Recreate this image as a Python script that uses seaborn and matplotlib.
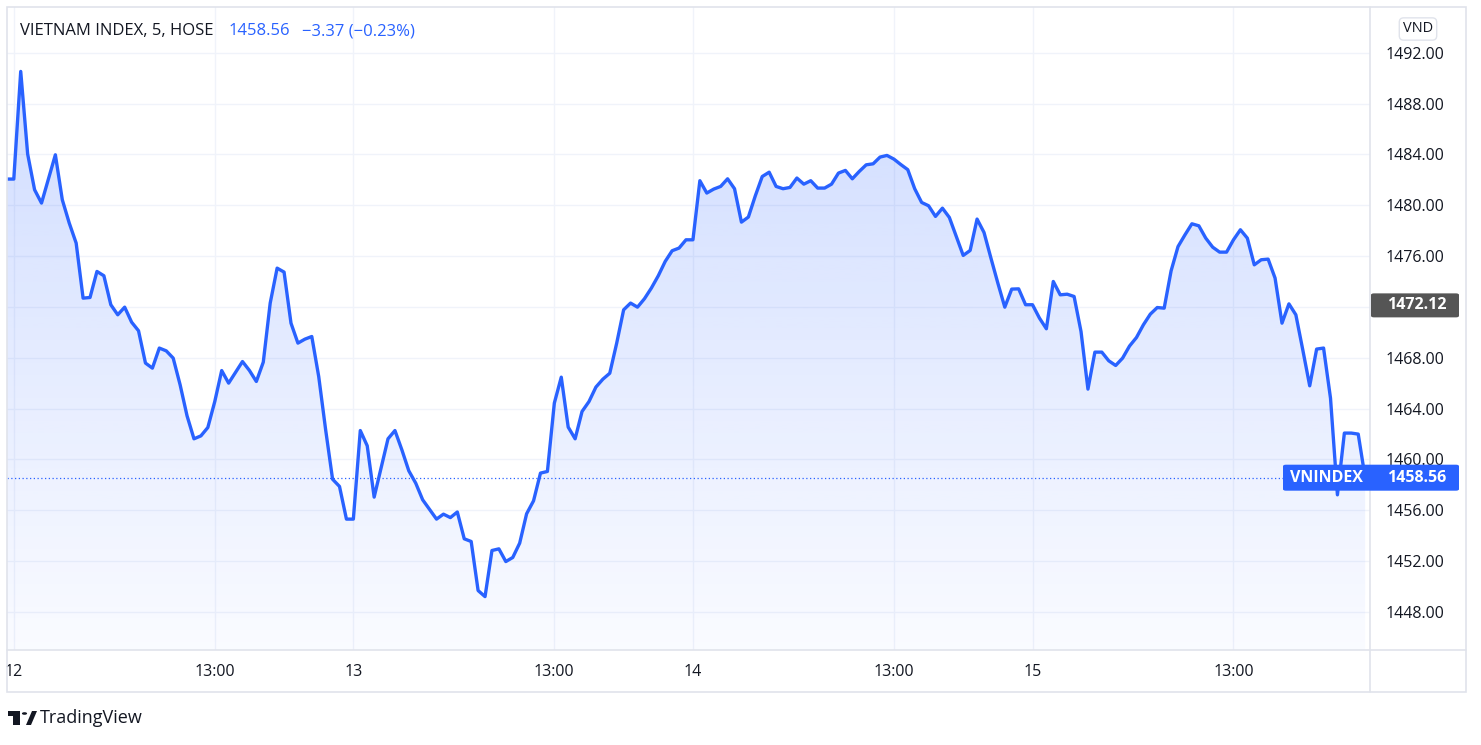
import numpy as np
import matplotlib
matplotlib.use("Agg")
import matplotlib.pyplot as plt
import seaborn as sns
from matplotlib.patches import Rectangle, FancyBboxPatch, Circle, Polygon
from matplotlib.lines import Line2D

# 5-minute bars (index from the first bar of day 12) and closing values
bars = [-1, 0, 1, 2, 3, 4, 6, 7, 8, 9, 10, 11, 12, 13, 14, 15, 16, 17, 18, 19,
        20, 21, 22, 23, 24, 25, 26, 27, 28, 29, 30, 31, 33, 34, 35, 36, 37, 38, 39, 40,
        41, 42, 43, 44, 45, 46, 47, 48, 49, 50, 51, 52, 53, 54, 55, 56, 57, 58, 59, 61,
        62, 63, 64, 65, 66, 67, 68, 69, 70, 71, 72, 73, 74, 75, 76, 77, 78, 79, 80, 81,
        82, 83, 84, 85, 86, 87, 88, 89, 90, 91, 92, 93, 94, 95, 96, 97, 98, 99, 100, 101,
        102, 103, 104, 105, 106, 107, 108, 109, 110, 111, 112, 113, 114, 115, 116, 117, 118, 119, 120, 121,
        122, 123, 124, 125, 126, 127, 128, 129, 130, 131, 132, 133, 134, 135, 136, 137, 138, 139, 140, 141,
        142, 143, 144, 145, 146, 147, 148, 149, 150, 151, 152, 153, 154, 155, 156, 157, 158, 159, 160, 161,
        162, 163, 164, 165, 166, 167, 168, 169, 170, 171, 172, 173, 174, 175, 176, 177, 178, 179, 180, 181,
        182, 183, 184, 185, 186, 187, 188, 189, 190, 191, 192, 193, 194, 195]
values = [1482.06, 1482.06, 1490.53, 1484.03, 1481.22, 1480.17, 1483.97, 1480.43, 1478.60, 1477.02,
          1472.69, 1472.74, 1474.79, 1474.45, 1472.17, 1471.38, 1471.98, 1470.80, 1470.12, 1467.58,
          1467.18, 1468.76, 1468.54, 1467.97, 1465.87, 1463.43, 1461.62, 1461.85, 1462.51, 1464.55,
          1466.99, 1466.00, 1467.70, 1467.00, 1466.13, 1467.65, 1472.30, 1475.05, 1474.74, 1470.72,
          1469.15, 1469.46, 1469.67, 1466.52, 1462.33, 1458.44, 1457.87, 1455.30, 1455.30, 1462.27,
          1461.07, 1457.03, 1459.31, 1461.62, 1462.27, 1460.75, 1459.10, 1458.13, 1456.82, 1455.30,
          1455.69, 1455.42, 1455.86, 1453.75, 1453.54, 1449.68, 1449.20, 1452.83, 1452.96, 1451.96,
          1452.28, 1453.41, 1455.72, 1456.74, 1458.92, 1459.05, 1464.43, 1466.47, 1462.54, 1461.62,
          1463.77, 1464.55, 1465.69, 1466.31, 1466.78, 1469.15, 1471.77, 1472.30, 1471.98, 1472.64,
          1473.48, 1474.45, 1475.58, 1476.42, 1476.63, 1477.28, 1477.28, 1481.93, 1480.96, 1481.27,
          1481.48, 1482.08, 1481.30, 1478.67, 1479.07, 1480.74, 1482.26, 1482.60, 1481.48, 1481.30,
          1481.40, 1482.14, 1481.66, 1481.93, 1481.35, 1481.35, 1481.66, 1482.53, 1482.74, 1482.08,
          1482.66, 1483.18, 1483.26, 1483.79, 1483.92, 1483.63, 1483.20, 1482.80, 1481.30, 1480.22,
          1479.96, 1479.12, 1479.77, 1479.04, 1477.54, 1476.05, 1476.44, 1478.91, 1477.86, 1475.84,
          1473.87, 1471.98, 1473.40, 1473.42, 1472.17, 1472.17, 1471.12, 1470.28, 1474.00, 1472.95,
          1473.00, 1472.82, 1470.06, 1465.53, 1468.44, 1468.44, 1467.76, 1467.39, 1467.97, 1468.92,
          1469.59, 1470.59, 1471.43, 1471.95, 1471.90, 1474.84, 1476.75, 1477.67, 1478.54, 1478.38,
          1477.41, 1476.70, 1476.31, 1476.31, 1477.28, 1478.07, 1477.41, 1475.31, 1475.71, 1475.76,
          1474.27, 1470.72, 1472.24, 1471.38, 1468.62, 1465.79, 1468.68, 1468.76, 1464.82, 1457.21,
          1462.07, 1462.07, 1461.99, 1458.56]

time_ticks = [0, 29, 49, 78, 98, 127, 147, 176]
time_labels = ["12", "13:00", "13", "13:00", "14", "13:00", "15", "13:00"]
price_ticks = [1448, 1452, 1456, 1460, 1464, 1468, 1472, 1476, 1480, 1484, 1488, 1492]
last_price = 1458.56
marker_price = 1472.12

BLUE = "#2962FF"
TXT = "#131722"
GRID = "#F0F3FA"
BORDER = "#E0E3EB"

sns.set_theme(style="white")
plt.rcParams["font.family"] = ["Open Sans", "DejaVu Sans"]

W, H = 1481, 745
fig = plt.figure(figsize=(W / 100, H / 100), dpi=100)
fig.patch.set_facecolor("white")


def fx(px):
    return px / W


def fy(py):
    return 1 - py / H


ax = fig.add_axes([fx(7), fy(650), (1370 - 7) / W, (650 - 7) / H])
ymin, ymax = 1445.0, 1495.6
xmin, xmax = -0.98, 195.7

for t in price_ticks:
    ax.axhline(t, color=GRID, lw=1, zorder=0)
for t in time_ticks:
    ax.axvline(t, color=GRID, lw=1, zorder=0)

xs = np.array(bars, dtype=float)
ys = np.array(values)

# gradient area under the line
poly = ax.fill_between(xs, ys, ymin, facecolor="none", edgecolor="none")
grad = np.zeros((256, 1, 4))
grad[:, 0, 0] = 41 / 255
grad[:, 0, 1] = 98 / 255
grad[:, 0, 2] = 1.0
grad[:, 0, 3] = np.linspace(0.22, 0.025, 256)
im = ax.imshow(grad, extent=[xs.min(), xs.max(), ymin, ys.max()], aspect="auto",
               origin="upper", zorder=1, interpolation="bilinear")
im.set_clip_path(poly.get_paths()[0], transform=ax.transData)

sns.lineplot(x=xs, y=ys, color=BLUE, linewidth=2.4, ax=ax, zorder=3, sort=False)
ax.axhline(last_price, color=BLUE, lw=0.9, ls=(0, (1, 2)), zorder=2)

ax.set_xlim(xmin, xmax)
ax.set_ylim(ymin, ymax)
for s in ax.spines.values():
    s.set_visible(False)

# the 1472 tick sits under the price marker, so its label stays hidden
ax.yaxis.tick_right()
ax.set_yticks(price_ticks)
ax.set_yticklabels(["" if t == 1472 else f"{t:.2f}" for t in price_ticks])
ax.set_xticks(time_ticks)
ax.set_xticklabels(time_labels)
ax.tick_params(axis="y", length=0, pad=11, labelsize=11.5, labelcolor=TXT)
ax.tick_params(axis="x", length=0, pad=10, labelsize=11.5, labelcolor=TXT)
ax.set_xlabel("")
ax.set_ylabel("")

# frame and separators
fig.add_artist(Rectangle((fx(7), fy(692)), (1466 - 7) / W, (692 - 7) / H, transform=fig.transFigure,
                         fill=False, ec=BORDER, lw=1.2, zorder=5))
fig.add_artist(Line2D([fx(7), fx(1466)], [fy(650), fy(650)], transform=fig.transFigure, color=BORDER, lw=1.2))
fig.add_artist(Line2D([fx(1370), fx(1370)], [fy(7), fy(692)], transform=fig.transFigure, color=BORDER, lw=1.2))

# header
fig.text(fx(20), fy(31), "VIETNAM INDEX, 5, HOSE", fontsize=12, color=TXT, va="center", ha="left")
fig.text(fx(229), fy(31), "1458.56", fontsize=12, color=BLUE, va="center", ha="left")
fig.text(fx(302), fy(31), "\u22123.37 (\u22120.23%)", fontsize=12, color=BLUE, va="center", ha="left")

# currency badge
fig.text(fx(1418), fy(29), "VND", fontsize=10.5, color=TXT, va="center", ha="center",
         bbox=dict(boxstyle="round,pad=0.25,rounding_size=0.3", fc="white", ec=BORDER, lw=1))


def price_px(v):
    disp = ax.transData.transform((0, v))[1]
    return H - disp


# dark price label
py = price_px(marker_price)
fig.add_artist(FancyBboxPatch((fx(1371), fy(py + 12)), (1459 - 1371) / W, 24 / H,
                              boxstyle="round,pad=0,rounding_size=0.002", transform=fig.transFigure,
                              fc="#555555", ec="none", zorder=6))
fig.text(fx(1387), fy(py), f"{marker_price:.2f}", fontsize=11.5, color="white",
         va="center", ha="left", zorder=7, fontweight="bold")

# last value label
py = price_px(last_price)
fig.add_artist(FancyBboxPatch((fx(1283), fy(py + 13)), (1459 - 1283) / W, 26 / H,
                              boxstyle="round,pad=0,rounding_size=0.002", transform=fig.transFigure,
                              fc=BLUE, ec="none", zorder=6))
fig.text(fx(1326), fy(py), "VNINDEX", fontsize=11.5, color="white", va="center", ha="center",
         zorder=7, fontweight="bold")
fig.text(fx(1387), fy(py), f"{last_price:.2f}", fontsize=11.5, color="white", va="center", ha="left",
         zorder=7, fontweight="bold")

# TradingView mark
fig.add_artist(Rectangle((fx(8), fy(716)), 12 / W, 5 / H, transform=fig.transFigure, fc=TXT, ec="none"))
fig.add_artist(Rectangle((fx(13), fy(725)), 7 / W, 14 / H, transform=fig.transFigure, fc=TXT, ec="none"))
fig.add_artist(Circle((fx(24.5), fy(713.5)), 2.6 / W, transform=fig.transFigure, fc=TXT, ec="none"))
fig.add_artist(Polygon([(fx(26), fy(725)), (fx(32), fy(711)), (fx(37), fy(711)), (fx(31), fy(725))],
                       closed=True, transform=fig.transFigure, fc=TXT, ec="none"))
fig.text(fx(40), fy(718), "TradingView", fontsize=13, color=TXT, va="center", ha="left")

fig.savefig("out.png", dpi=100, facecolor="white")
